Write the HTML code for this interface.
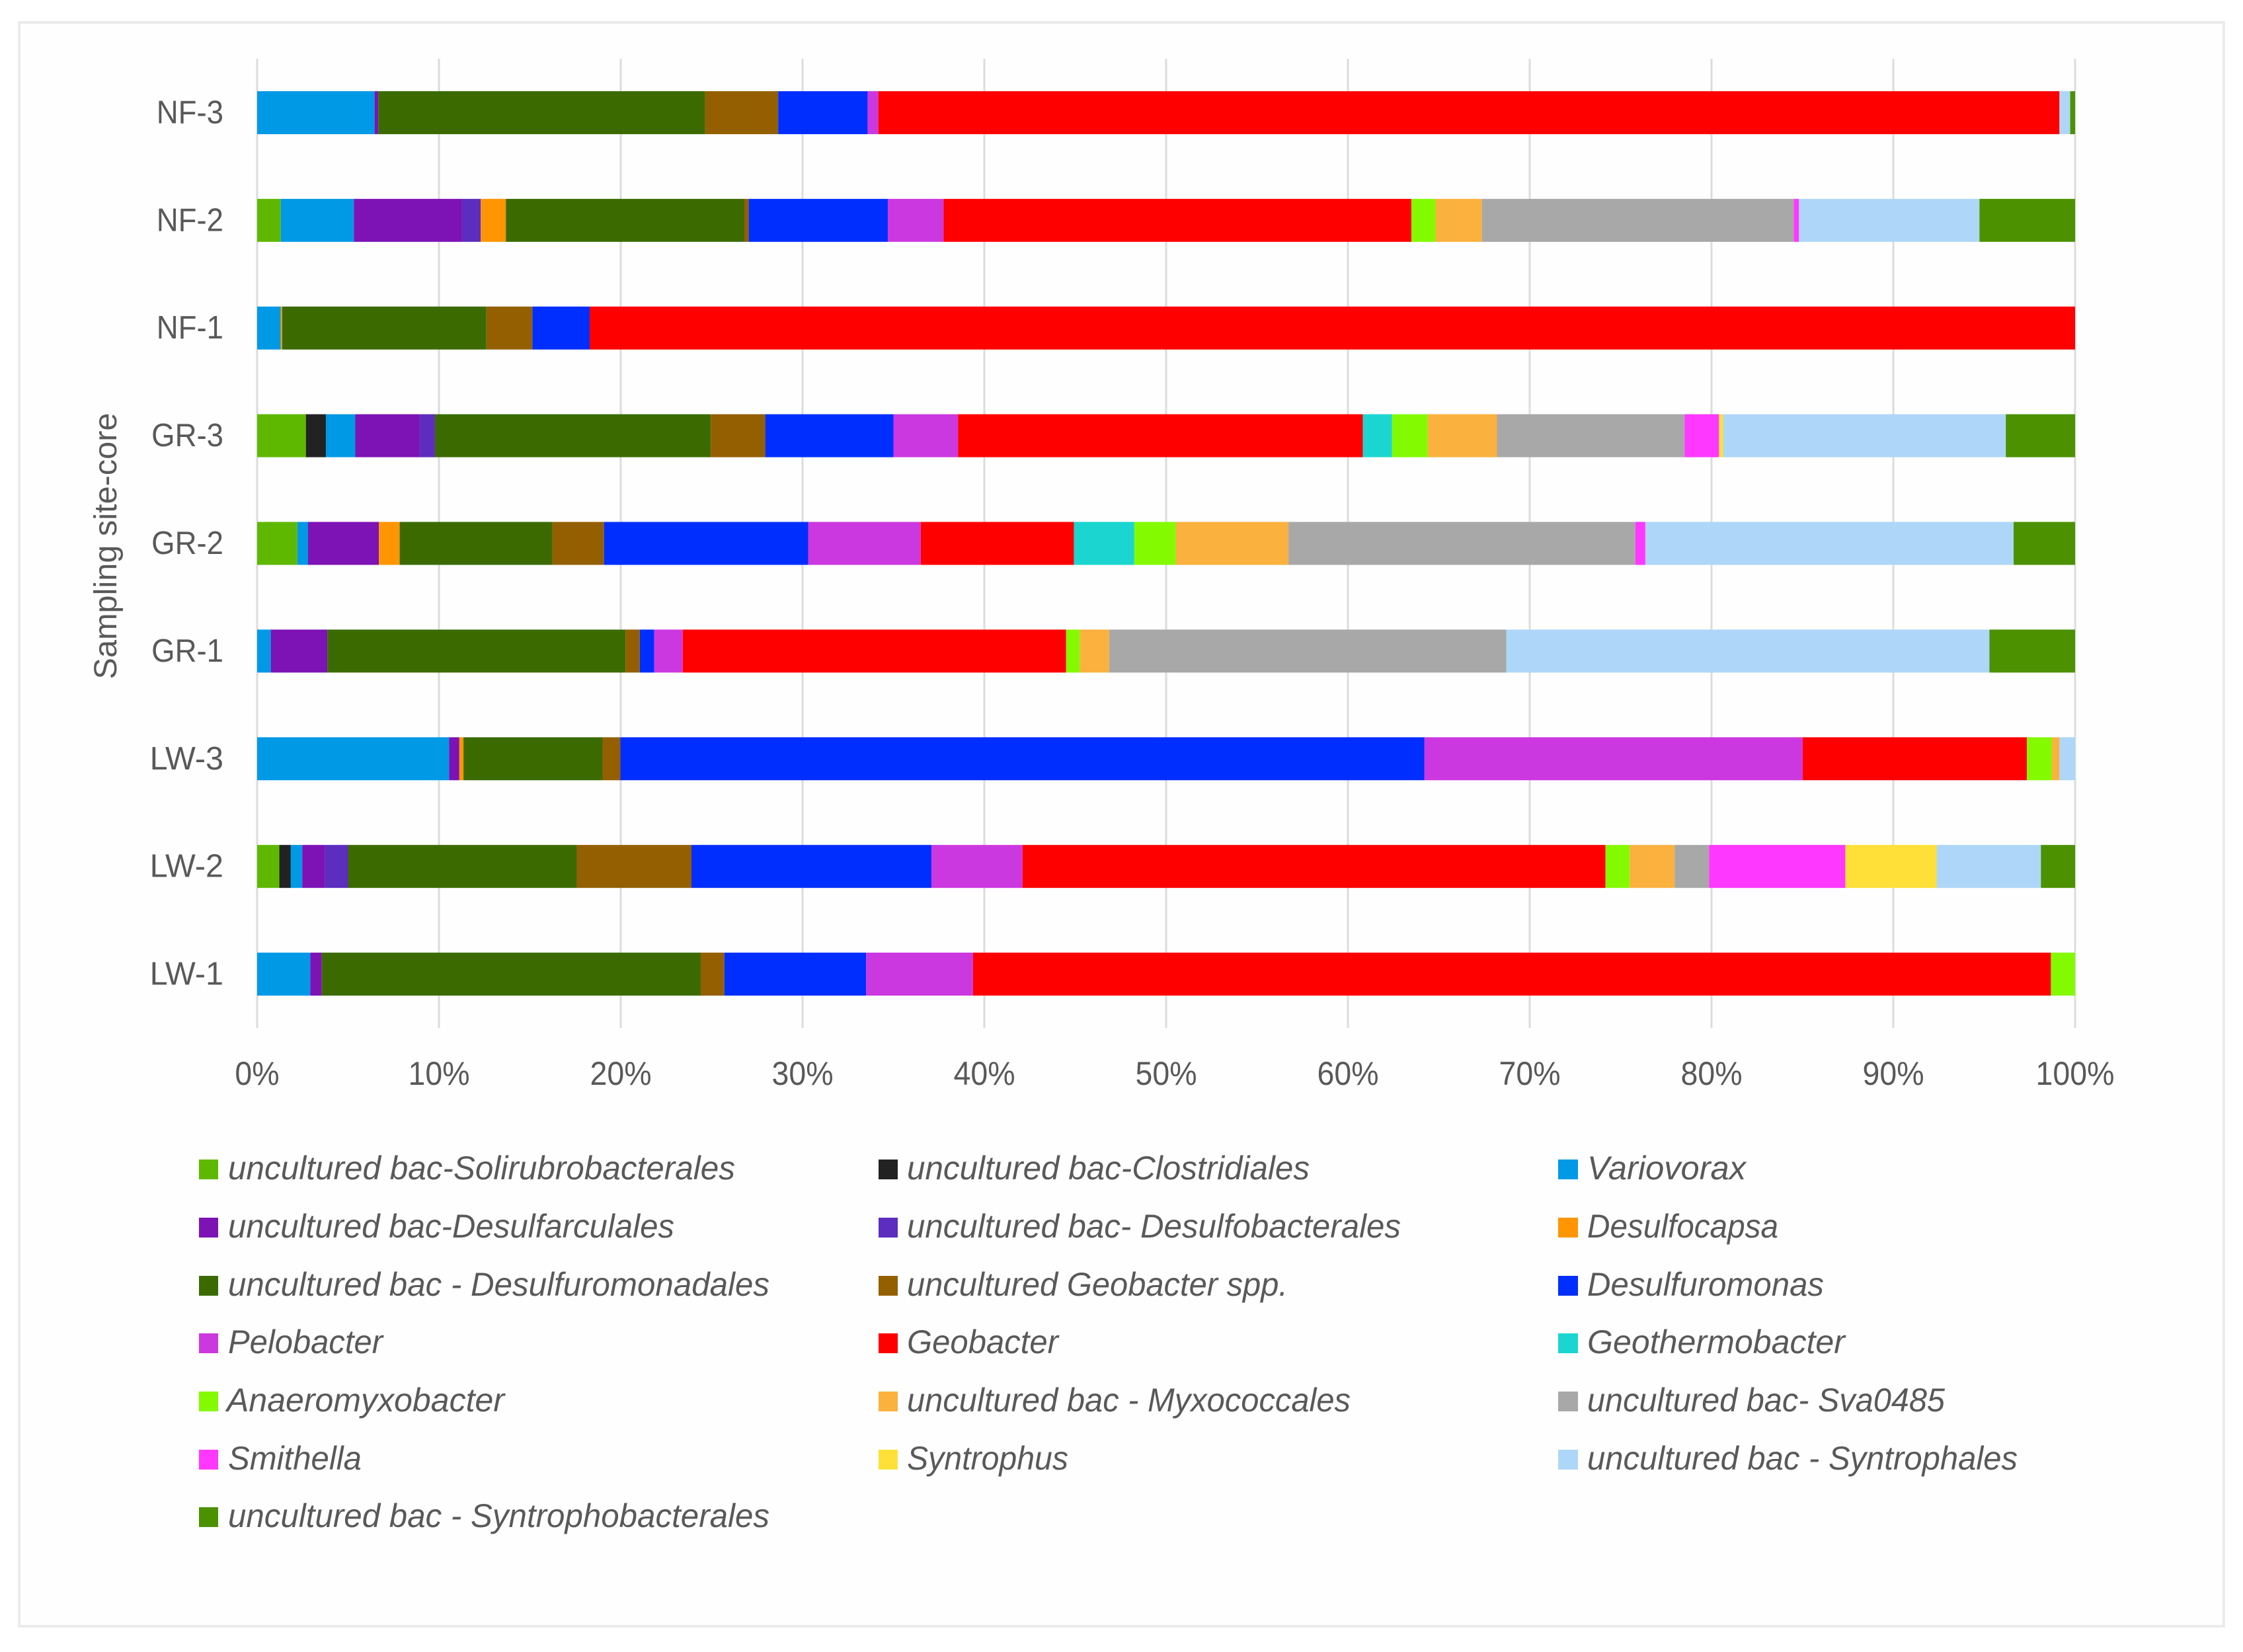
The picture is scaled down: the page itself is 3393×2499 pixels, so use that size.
<!DOCTYPE html>
<html>
<head>
<meta charset="utf-8">
<title>Sampling site-core community composition</title>
<style>
html,body{margin:0;padding:0;background:#fff;}
svg{display:block;}
text{font-family:"Liberation Sans",sans-serif;fill:#595959;}
.lg{font-size:50px;font-style:italic;}
</style>
</head>
<body>
<svg id="chart" xmlns="http://www.w3.org/2000/svg" width="3393" height="2499" viewBox="0 0 3393 2499">
  <rect x="0" y="0" width="3393" height="2499" fill="#ffffff"/>
  <rect x="29" y="34" width="3335" height="2426" fill="#fefefe" stroke="#ebebeb" stroke-width="4"/>
  <g id="grid"></g>
  <g id="bars"></g>
  <g id="xticks"></g>
  <g id="yticks"></g>
  <text transform="translate(176,826) rotate(-90)" text-anchor="middle" font-size="48" textLength="403" lengthAdjust="spacingAndGlyphs">Sampling site-core</text>

  <g>
    <g><rect x="301" y="1754" width="29" height="30" fill="#5fb800"/><text class="lg" x="345" y="1784" textLength="767" lengthAdjust="spacingAndGlyphs">uncultured bac-Solirubrobacterales</text></g>
    <g><rect x="1329" y="1754" width="29" height="30" fill="#222222"/><text class="lg" x="1372" y="1784" textLength="609" lengthAdjust="spacingAndGlyphs">uncultured bac-Clostridiales</text></g>
    <g><rect x="2357" y="1754" width="30" height="30" fill="#0099e6"/><text class="lg" x="2401" y="1784" textLength="240" lengthAdjust="spacingAndGlyphs">Variovorax</text></g>

    <g><rect x="301" y="1842" width="29" height="30" fill="#7d12b5"/><text class="lg" x="345" y="1872" textLength="675" lengthAdjust="spacingAndGlyphs">uncultured bac-Desulfarculales</text></g>
    <g><rect x="1329" y="1842" width="29" height="30" fill="#5c2dbf"/><text class="lg" x="1372" y="1872" textLength="747" lengthAdjust="spacingAndGlyphs">uncultured bac- Desulfobacterales</text></g>
    <g><rect x="2357" y="1842" width="30" height="30" fill="#ff9500"/><text class="lg" x="2401" y="1872" textLength="289" lengthAdjust="spacingAndGlyphs">Desulfocapsa</text></g>

    <g><rect x="301" y="1930" width="29" height="30" fill="#3b6b00"/><text class="lg" x="345" y="1960" textLength="819" lengthAdjust="spacingAndGlyphs">uncultured bac - Desulfuromonadales</text></g>
    <g><rect x="1329" y="1930" width="29" height="30" fill="#945f00"/><text class="lg" x="1372" y="1960" textLength="576" lengthAdjust="spacingAndGlyphs">uncultured Geobacter spp.</text></g>
    <g><rect x="2357" y="1930" width="30" height="30" fill="#002eff"/><text class="lg" x="2401" y="1960" textLength="358" lengthAdjust="spacingAndGlyphs">Desulfuromonas</text></g>

    <g><rect x="301" y="2017" width="29" height="30" fill="#cc38e0"/><text class="lg" x="345" y="2047" textLength="234" lengthAdjust="spacingAndGlyphs">Pelobacter</text></g>
    <g><rect x="1329" y="2017" width="29" height="30" fill="#ff0000"/><text class="lg" x="1372" y="2047" textLength="229" lengthAdjust="spacingAndGlyphs">Geobacter</text></g>
    <g><rect x="2357" y="2017" width="30" height="30" fill="#1bd6d0"/><text class="lg" x="2401" y="2047" textLength="390" lengthAdjust="spacingAndGlyphs">Geothermobacter</text></g>

    <g><rect x="301" y="2105" width="29" height="30" fill="#84fa00"/><text class="lg" x="343" y="2135" textLength="420" lengthAdjust="spacingAndGlyphs">Anaeromyxobacter</text></g>
    <g><rect x="1329" y="2105" width="29" height="30" fill="#fbb13e"/><text class="lg" x="1372" y="2135" textLength="671" lengthAdjust="spacingAndGlyphs">uncultured bac - Myxococcales</text></g>
    <g><rect x="2357" y="2105" width="30" height="30" fill="#a8a8a8"/><text class="lg" x="2401" y="2135" textLength="541" lengthAdjust="spacingAndGlyphs">uncultured bac- Sva0485</text></g>

    <g><rect x="301" y="2193" width="29" height="30" fill="#ff38ff"/><text class="lg" x="345" y="2223" textLength="202" lengthAdjust="spacingAndGlyphs">Smithella</text></g>
    <g><rect x="1329" y="2193" width="29" height="30" fill="#ffe038"/><text class="lg" x="1372" y="2223" textLength="244" lengthAdjust="spacingAndGlyphs">Syntrophus</text></g>
    <g><rect x="2357" y="2193" width="30" height="30" fill="#aed6f8"/><text class="lg" x="2401" y="2223" textLength="651" lengthAdjust="spacingAndGlyphs">uncultured bac - Syntrophales</text></g>

    <g><rect x="301" y="2280" width="29" height="30" fill="#4c9100"/><text class="lg" x="345" y="2310" textLength="819" lengthAdjust="spacingAndGlyphs">uncultured bac - Syntrophobacterales</text></g>
  </g>
</svg>
<script>
// Categories, top of chart to bottom
const categories = ["NF-3","NF-2","NF-1","GR-3","GR-2","GR-1","LW-3","LW-2","LW-1"];
const xTickLabels = ["0%","10%","20%","30%","40%","50%","60%","70%","80%","90%","100%"];
const xTickValues = [0,10,20,30,40,50,60,70,80,90,100];

// Series values (%), one entry per category in the order above
const solirubrobacterales = [0,1.30,0,2.68,2.21,0,0,1.22,0];
const clostridiales       = [0,0,0,1.10,0,0,0,0.63,0];
const variovorax          = [6.46,4.02,1.30,1.62,0.59,0.75,10.56,0.63,2.92];
const desulfarculales     = [0.20,5.95,0,3.55,3.90,3.11,0.56,1.26,0.63];
const desulfobacterales   = [0,1.03,0,0.83,0,0,0,1.26,0];
const desulfocapsa        = [0,1.38,0.08,0,1.14,0,0.23,0,0];
const desulfuromonadales  = [17.98,13.12,11.23,15.17,8.40,16.40,7.65,12.58,20.85];
const unculturedGeobacter = [4.02,0.24,2.53,3.00,2.84,0.79,0.98,6.31,1.30];
const desulfuromonas      = [4.92,7.65,3.15,7.05,11.23,0.79,44.22,13.20,7.80];
const pelobacter          = [0.59,3.07,0,3.55,6.19,1.57,20.82,5.01,5.88];
const geobacter           = [64.97,25.73,81.71,22.27,8.43,21.09,12.33,32.07,59.29];
const geothermobacter     = [0,0,0,1.61,3.32,0,0,0,0];
const anaeromyxobacter    = [0,1.33,0,1.96,2.28,0.75,1.38,1.33,1.33];
const myxococcales        = [0,2.55,0,3.81,6.20,1.62,0.41,2.47,0];
const sva0485             = [0,17.16,0,10.32,19.08,21.84,0,1.89,0];
const smithella           = [0,0.28,0,1.89,0.55,0,0,7.50,0];
const syntrophus          = [0,0,0,0.23,0,0,0,5.02,0];
const syntrophales        = [0.59,9.93,0,15.55,20.26,26.58,0.86,5.74,0];
const syntrophobacterales = [0.27,5.26,0,3.81,3.38,4.71,0,1.88,0];

const seriesList = [solirubrobacterales,clostridiales,variovorax,desulfarculales,desulfobacterales,desulfocapsa,desulfuromonadales,unculturedGeobacter,desulfuromonas,pelobacter,geobacter,geothermobacter,anaeromyxobacter,myxococcales,sva0485,smithella,syntrophus,syntrophales,syntrophobacterales];
const seriesNames = ["solirubrobacterales","clostridiales","variovorax","desulfarculales","desulfobacterales","desulfocapsa","desulfuromonadales","uncultured-geobacter","desulfuromonas","pelobacter","geobacter","geothermobacter","anaeromyxobacter","myxococcales","sva0485","smithella","syntrophus","syntrophales","syntrophobacterales"];
const seriesColors = ["#5fb800","#222222","#0099e6","#7d12b5","#5c2dbf","#ff9500","#3b6b00","#945f00","#002eff","#cc38e0","#ff0000","#1bd6d0","#84fa00","#fbb13e","#a8a8a8","#ff38ff","#ffe038","#aed6f8","#4c9100"];

const NS = "http://www.w3.org/2000/svg";
const plot = {left:389, right:3139, top:89, bottom:1555};
const barHeight = 65;
function xScale(v){ return plot.left + (v/100)*(plot.right-plot.left); }
function yCenter(i){ return plot.top + (i+0.5)*(plot.bottom-plot.top)/categories.length; }

const gridG = document.getElementById('grid');
const barsG = document.getElementById('bars');
const xG = document.getElementById('xticks');
const yG = document.getElementById('yticks');

xTickValues.forEach(function(v,i){
  const l = document.createElementNS(NS,'line');
  
  
  l.setAttribute('x1', xScale(v));
  l.setAttribute('x2', xScale(v));
  l.setAttribute('y1', plot.top);
  l.setAttribute('y2', plot.bottom);
  l.setAttribute('stroke', '#dcdcdc');
  l.setAttribute('stroke-width', '3');
  gridG.appendChild(l);

  const t = document.createElementNS(NS,'text');
  
  
  t.setAttribute('transform', 'translate(' + xScale(v) + ',1641) scale(0.93,1)');
  t.setAttribute('text-anchor', 'middle');
  t.setAttribute('font-size', '50');
  t.textContent = xTickLabels[i];
  xG.appendChild(t);
});

categories.forEach(function(cat,i){
  const cy = yCenter(i);
  const sx = cat.charAt(0) === 'L' ? 0.99 : 0.93;
  const t = document.createElementNS(NS,'text');
  
  
  t.setAttribute('transform', 'translate(338,' + (cy+16) + ') scale(' + sx + ',1)');
  t.setAttribute('text-anchor', 'end');
  t.setAttribute('font-size', '49');
  t.textContent = cat;
  yG.appendChild(t);

  let acc = 0;
  seriesList.forEach(function(series,s){
    const v = series[i];
    if(v > 0){
      const r = document.createElementNS(NS,'rect');
      
      
      r.setAttribute('x', xScale(acc));
      r.setAttribute('width', xScale(acc+v)-xScale(acc));
      r.setAttribute('y', cy-barHeight/2);
      r.setAttribute('height', barHeight);
      r.setAttribute('fill', seriesColors[s]);
      barsG.appendChild(r);
    }
    acc += v;
  });
});
</script>
</body>
</html>
